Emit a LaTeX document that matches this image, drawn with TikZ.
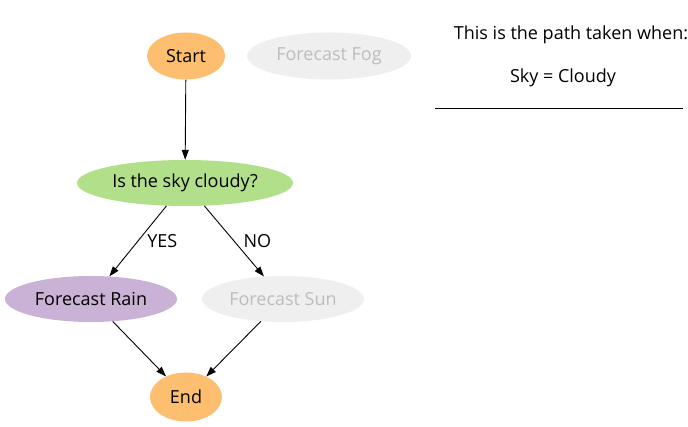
\documentclass[tikz,border=0pt]{standalone}
\usepackage{fontspec}
\setmainfont{Open Sans}
\usetikzlibrary{shapes.geometric,arrows.meta}
\definecolor{orangefill}{HTML}{FDBF6F}
\definecolor{greenfill}{HTML}{B2DF8A}
\definecolor{purplefill}{HTML}{CAB2D6}
\definecolor{greyfill}{HTML}{EFEFEF}
\definecolor{greytext}{HTML}{BDBDBD}
\tikzset{
  every node/.style={font=\fontsize{18pt}{21pt}\selectfont},
  nd/.style={ellipse, inner sep=0pt, text=black},
  dim/.style={nd, fill=greyfill, text=greytext},
  edge/.style={draw=black, line width=0.9pt, -{Triangle[length=10pt,width=7pt]}},
  elabel/.style={anchor=west, inner sep=0pt, xshift=9pt, pos=0.5},
}
\begin{document}
\begin{tikzpicture}[x=1pt,y=1pt]
\useasboundingbox (0,0) rectangle (688,427);
\fill[white] (0,0) rectangle (688,427);
\node[nd, fill=orangefill, minimum width=78pt, minimum height=47pt] (start) at (186,371) {Start};
\node[dim, minimum width=164pt, minimum height=47pt] (fog) at (329,371) {Forecast Fog};
\node[nd, fill=greenfill, minimum width=216pt, minimum height=46pt] (cloudy) at (185,244) {Is the sky cloudy?};
\node[nd, fill=purplefill, minimum width=172pt, minimum height=46pt] (rain) at (91,128) {Forecast Rain};
\node[dim, minimum width=162pt, minimum height=46pt] (sun) at (283,128) {Forecast Sun};
\node[nd, fill=orangefill, minimum width=72pt, minimum height=49pt] (end) at (186,30) {End};
\draw[edge] (start) -- (cloudy);
\draw[edge] (cloudy) -- node[elabel] (yes) {YES} (rain);
\draw[edge] (cloudy) -- node[elabel] (no) {NO} (sun);
\draw[edge] (rain) -- (end);
\draw[edge] (sun) -- (end);
\node (title) at (571,392) {This is the path taken when:};
\node (cond) at (563,349) {Sky = Cloudy};
\coordinate (la) at (435,319);
\coordinate (lb) at (683,319);
\draw[line width=0.9pt] (la) -- (lb);
\end{tikzpicture}
\end{document}
